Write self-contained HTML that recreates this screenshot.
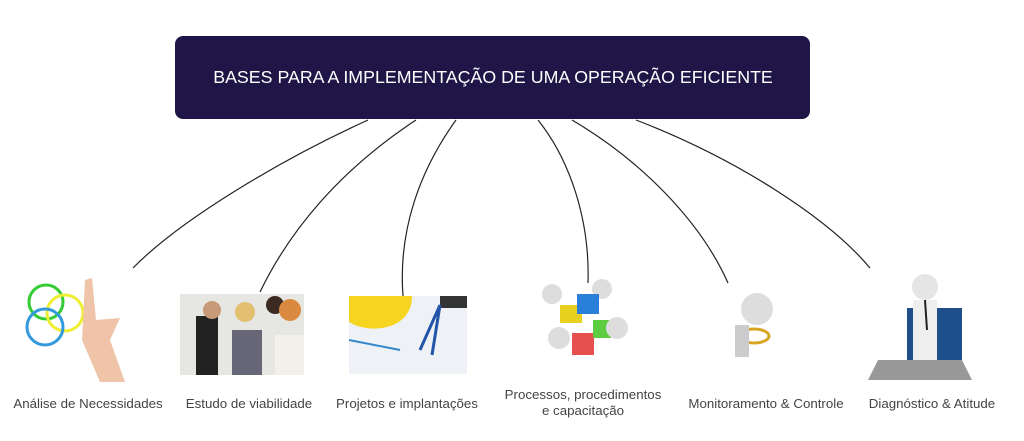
<!DOCTYPE html>
<html><head><meta charset="utf-8"><style>
html,body{margin:0;padding:0;background:#fff;width:1024px;height:441px;overflow:hidden}
svg{display:block}
text{font-family:"Liberation Sans",Helvetica,Arial,sans-serif}
</style></head><body>
<svg width="1024" height="441" viewBox="0 0 1024 441" xmlns="http://www.w3.org/2000/svg">
<rect x="175" y="36" width="635" height="83" rx="8" fill="#1f1547"/>
<text x="493" y="83" text-anchor="middle" fill="#fff" font-size="17.8">BASES PARA A IMPLEMENTAÇÃO DE UMA OPERAÇÃO EFICIENTE</text>
<g fill="none" stroke="#222" stroke-width="1.2">
<path d="M368 120 C 280 160, 180 220, 133 268"/>
<path d="M416 120 C 340 170, 290 230, 260 292"/>
<path d="M456 120 C 420 170, 398 230, 403 296"/>
<path d="M538 120 C 570 160, 590 220, 588 283"/>
<path d="M572 120 C 640 160, 700 220, 728 283"/>
<path d="M636 120 C 740 160, 830 220, 870 268"/>
</g>
<g>
<circle cx="46" cy="302" r="17" fill="none" stroke="#3c3" stroke-width="3"/>
<circle cx="65" cy="313" r="18" fill="none" stroke="#ee3" stroke-width="3"/>
<circle cx="45" cy="327" r="18" fill="none" stroke="#39d" stroke-width="3"/>
<path d="M85 280 L92 278 L96 320 L120 318 L110 340 L125 382 L100 382 L82 340 Z" fill="#f0c4a8"/>
</g>
<rect x="180" y="294" width="124" height="81" fill="#e6e6e2"/>
<rect x="196" y="316" width="22" height="59" fill="#222"/>
<circle cx="212" cy="310" r="9" fill="#c89a78"/>
<circle cx="245" cy="312" r="10" fill="#e2c070"/>
<rect x="232" y="330" width="30" height="45" fill="#667"/>
<circle cx="275" cy="305" r="9" fill="#3a2a20"/>
<circle cx="290" cy="310" r="11" fill="#d98a40"/>
<rect x="275" y="335" width="29" height="40" fill="#f3f0ea"/>
<rect x="349" y="296" width="118" height="78" fill="#eef1f6"/>
<path d="M349 296 L412 296 C 412 330, 370 335, 349 322 Z" fill="#f5d520"/>
<rect x="440" y="296" width="27" height="12" fill="#333"/>
<path d="M440 305 L420 350 M440 305 L432 355" stroke="#25a" stroke-width="3"/>
<path d="M349 340 L400 350" stroke="#38c" stroke-width="2"/>
<circle cx="552" cy="294" r="10" fill="#ddd"/>
<circle cx="602" cy="289" r="10" fill="#ddd"/>
<rect x="560" y="305" width="22" height="18" fill="#e8d020"/>
<rect x="577" y="294" width="22" height="20" fill="#2a7fd8"/>
<rect x="572" y="333" width="22" height="22" fill="#e85050"/>
<rect x="593" y="320" width="18" height="18" fill="#5ccc40"/>
<circle cx="559" cy="338" r="11" fill="#ddd"/>
<circle cx="617" cy="328" r="11" fill="#ddd"/>
<circle cx="757" cy="309" r="16" fill="#ddd"/>
<ellipse cx="754" cy="336" rx="15" ry="7" fill="none" stroke="#d6a620" stroke-width="3"/>
<rect x="735" y="325" width="14" height="32" fill="#ccc"/>
<rect x="907" y="308" width="55" height="52" fill="#1f4f8a"/>
<path d="M878 360 L962 360 L972 380 L868 380 Z" fill="#999"/>
<circle cx="925" cy="287" r="13" fill="#e5e5e5"/>
<rect x="913" y="300" width="24" height="60" fill="#eee"/>
<path d="M925 300 L927 330" stroke="#222" stroke-width="2"/>
<g fill="#444" font-size="13.3" text-anchor="middle">
<text x="88" y="408">Análise de Necessidades</text>
<text x="249" y="408">Estudo de viabilidade</text>
<text x="407" y="408">Projetos e implantações</text>
<text x="583" y="399">Processos, procedimentos</text>
<text x="583" y="415">e capacitação</text>
<text x="766" y="408">Monitoramento &amp; Controle</text>
<text x="932" y="408">Diagnóstico &amp; Atitude</text>
</g>
</svg>
</body></html>
